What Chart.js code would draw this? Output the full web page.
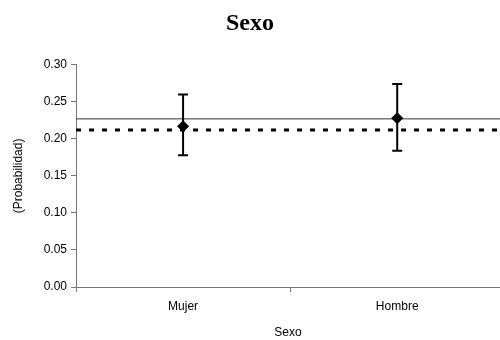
<!DOCTYPE html>
<html>
<head>
<meta charset="utf-8">
<script src="https://cdn.jsdelivr.net/npm/chart.js@4"></script>
<style>
  html, body { margin: 0; padding: 0; background: #fff; }
  canvas { display: block; }
</style>
</head>
<body>
<canvas id="chart" width="500" height="340"></canvas>
<script>
// --- Data ---
const categories = ['Mujer', 'Hombre'];
const means = [0.217, 0.228];
const lower = [0.178, 0.184];
const upper = [0.260, 0.274];
const refSolid = 0.227;   // solid horizontal reference
const refDashed = 0.212;  // dashed horizontal reference
const yTicks = [0, 0.05, 0.10, 0.15, 0.20, 0.25, 0.30];

// categories sit at 0.5, 1.5 on a 0..2 linear axis
const catPos = categories.map((c, i) => i + 0.5);
const xMax = categories.length;
// the original plot runs slightly past the right edge of the picture
const xView = 1.98;

const errorSets = categories.map((c, i) => ({
  label: 'err ' + c,
  data: [{ x: catPos[i], y: lower[i] }, { x: catPos[i], y: upper[i] }],
  showLine: true,
  borderColor: '#000',
  borderWidth: 2,
  pointStyle: 'line',
  pointRadius: 5,
  pointBorderWidth: 2,
  pointBorderColor: '#000',
  order: 2
}));

const datasets = [
  {
    label: 'media',
    data: catPos.map((x, i) => ({ x: x, y: means[i] })),
    showLine: false,
    pointStyle: 'rectRot',
    pointRadius: 5.5,
    pointBackgroundColor: '#000',
    pointBorderColor: '#000',
    order: 1
  },
  ...errorSets,
  {
    label: 'ref',
    data: [{ x: 0, y: refSolid }, { x: xMax, y: refSolid }],
    showLine: true,
    borderColor: '#333',
    borderWidth: 1,
    pointRadius: 0,
    order: 4
  },
  {
    label: 'ref2',
    data: [{ x: 0, y: refDashed }, { x: xMax, y: refDashed }],
    showLine: true,
    borderColor: '#000',
    borderWidth: 3,
    borderDash: [5, 8],
    pointRadius: 0,
    order: 3
  }
];

const tickFont = { family: 'Liberation Sans, Arial, sans-serif', size: 12 };

new Chart(document.getElementById('chart'), {
  type: 'scatter',
  data: { datasets: datasets },
  options: {
    responsive: false,
    animation: false,
    layout: { padding: 0, autoPadding: false },
    plugins: {
      legend: { display: false },
      tooltip: { enabled: false },
      title: {
        display: true,
        text: 'Sexo',
        color: '#000',
        font: { family: 'Liberation Serif, Times New Roman, serif', size: 24, weight: 'bold' },
        padding: { top: 9, bottom: 27 }
      }
    },
    scales: {
      x: {
        type: 'linear',
        min: 0,
        max: xView,
        afterBuildTicks: s => { s.ticks = [0, 0.5, 1, 1.5].map(v => ({ value: v })); },
        afterFit: s => { s.height = 53; },
        ticks: {
          color: '#000',
          font: tickFont,
          padding: 7,
          maxRotation: 0,
          autoSkip: false,
          callback: v => {
            const i = catPos.indexOf(v);
            return i >= 0 ? categories[i] : '';
          }
        },
        grid: {
          drawOnChartArea: false,
          drawTicks: true,
          tickLength: 5,
          color: ctx => (ctx.tick && catPos.includes(ctx.tick.value)) ? 'rgba(0,0,0,0)' : '#777'
        },
        border: { color: '#777', width: 1 },
        title: {
          display: true,
          text: 'Sexo',
          color: '#000',
          font: tickFont,
          padding: { top: 4, bottom: 0 }
        }
      },
      y: {
        min: 0,
        max: 0.30,
        afterBuildTicks: s => { s.ticks = yTicks.map(v => ({ value: v })); },
        afterFit: s => { s.width = 76; },
        ticks: {
          color: '#000',
          font: tickFont,
          padding: 4,
          callback: v => v.toFixed(2)
        },
        grid: {
          drawOnChartArea: false,
          drawTicks: true,
          tickLength: 5,
          color: '#777'
        },
        border: { color: '#777', width: 1 },
        title: {
          display: true,
          text: '(Probabilidad)',
          color: '#000',
          font: tickFont,
          padding: { top: 11, bottom: 4 }
        }
      }
    }
  }
});
</script>
</body>
</html>
